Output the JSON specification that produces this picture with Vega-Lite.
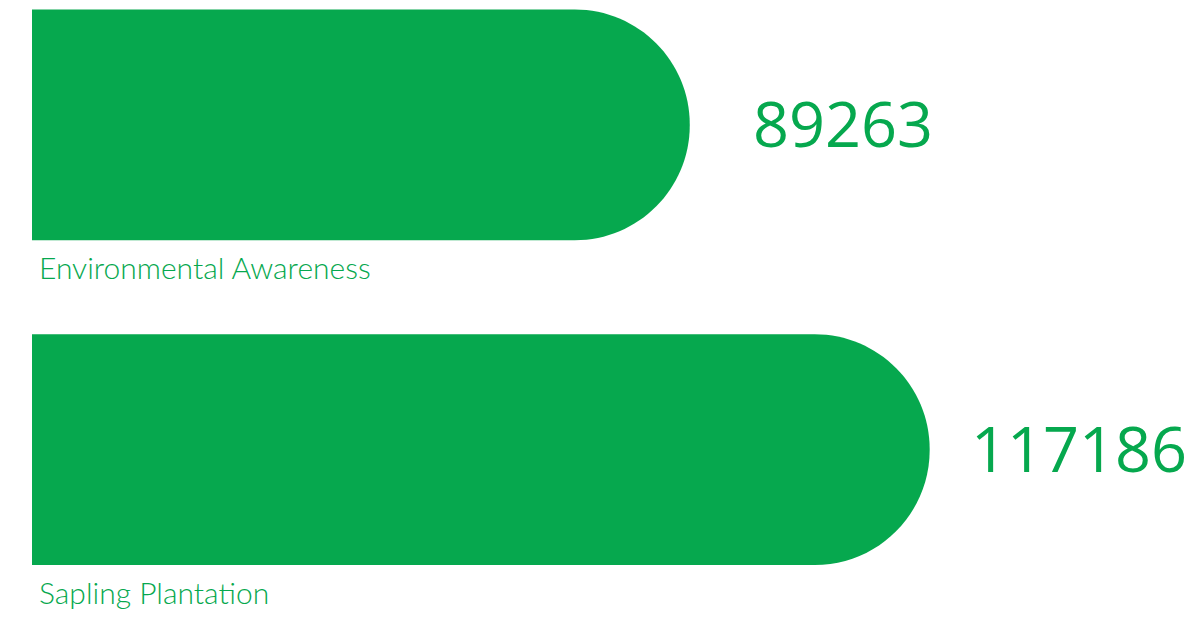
{
  "$schema": "https://vega.github.io/schema/vega-lite/v6.json",
  "autosize": "none",
  "padding": {"left": 32, "top": 0, "right": 184, "bottom": 43.5},
  "width": 982,
  "height": 574.5,
  "background": "white",
  "config": {"view": {"stroke": null}},
  "data": {"values": [
    {"category": "Environmental Awareness", "value": 89263},
    {"category": "Sapling Plantation", "value": 117186}
  ]},
  "encoding": {
    "y": {"field": "category", "type": "nominal", "sort": null,
      "scale": {"paddingInner": 0.29, "paddingOuter": 0.029}, "axis": null}
  },
  "layer": [
    {
      "mark": {"type": "bar", "color": "#06A84E", "cornerRadiusTopRight": 115, "cornerRadiusBottomRight": 115},
      "encoding": {
        "x": {"field": "value", "type": "quantitative", "scale": {"domain": [12707, 127000], "zero": false}, "axis": null},
        "x2": {"datum": 12707}
      }
    },
    {
      "mark": {"type": "text", "color": "#06A84E", "font": "Open Sans", "fontSize": 63, "align": "left", "baseline": "middle", "dy": 3},
      "encoding": {
        "x": {"field": "value", "type": "quantitative", "scale": {"domain": [-3090, 122693], "zero": false}, "axis": null},
        "text": {"field": "value", "type": "quantitative", "format": "d"}
      }
    },
    {
      "mark": {"type": "text", "color": "#06A84E", "font": "Lato", "fontSize": 30, "fontWeight": 300, "align": "left", "baseline": "alphabetic", "dx": 7, "dy": 39},
      "encoding": {
        "x": {"datum": 12707, "type": "quantitative", "scale": {"domain": [12707, 127000], "zero": false}, "axis": null},
        "y": {"field": "category", "type": "nominal", "sort": null, "bandPosition": 1},
        "text": {"field": "category", "type": "nominal"}
      }
    }
  ],
  "resolve": {"scale": {"x": "independent"}}
}
